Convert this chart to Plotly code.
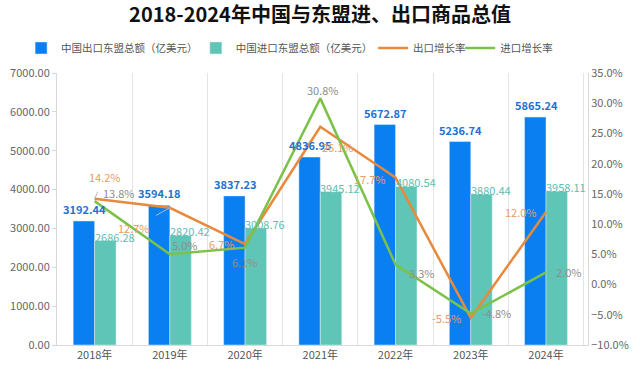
import plotly.graph_objects as go

years = ["2018年", "2019年", "2020年", "2021年", "2022年", "2023年", "2024年"]
export_vals = [3192.44, 3594.18, 3837.23, 4836.95, 5672.87, 5236.74, 5865.24]
import_vals = [2686.28, 2820.42, 3008.76, 3945.12, 4080.54, 3880.44, 3958.11]
export_growth = [14.2, 12.7, 6.7, 26.1, 17.7, -5.5, 12.0]
import_growth = [13.8, 5.0, 6.1, 30.8, 3.3, -4.8, 2.0]
series_names = ["中国出口东盟总额（亿美元）", "中国进口东盟总额（亿美元）", "出口增长率", "进口增长率"]

# label offsets (pixels) for growth labels
exp_off = [(10, -22), (-36, 20), (-24, 0), (18, 20), (-26, 1), (-24, 0), (-25, 0)]
imp_off = [(24, -8), (15, -9), (-1, 14), (3, -8), (26, 8), (26, -1), (22, 0)]
exp_leader = [True, True, False, False, False, False, False]
legend_x = [0.033, 0.306, 0.583, 0.719]

FONT = "Noto Sans CJK SC"
BLUE = "#0a7ff2"
TEAL = "#5fc5b7"
ORANGE = "#e8893c"
GREEN = "#7cc24a"

fig = go.Figure()
fig.add_trace(go.Bar(x=years, y=export_vals, name=series_names[0],
                     marker_color=BLUE, yaxis="y", legend="legend"))
fig.add_trace(go.Bar(x=years, y=import_vals, name=series_names[1],
                     marker_color=TEAL, yaxis="y", legend="legend2"))
fig.add_trace(go.Scatter(x=years, y=export_growth, name=series_names[2], mode="lines",
                         line=dict(color=ORANGE, width=2.5), yaxis="y2", legend="legend3"))
fig.add_trace(go.Scatter(x=years, y=import_growth, name=series_names[3], mode="lines",
                         line=dict(color=GREEN, width=2.5), yaxis="y2", legend="legend4"))

ann = []
for x, v in zip(years, export_vals):
    ann.append(dict(x=x, y=v, xref="x", yref="y", text=f"<b>{v:.2f}</b>", showarrow=False,
                    xshift=-10, yshift=12, font=dict(color="#1e73d2", size=11, family=FONT)))
for x, v in zip(years, import_vals):
    ann.append(dict(x=x, y=v, xref="x", yref="y", text=f"{v:.2f}", showarrow=False,
                    xshift=20, yshift=4, font=dict(color="#5dbdb0", size=11, family=FONT)))
for x, v, (dx, dy), lead in zip(years, export_growth, exp_off, exp_leader):
    if lead:
        ann.append(dict(x=x, y=v, xref="x", yref="y2", text=f"{v:.1f}%", showarrow=True,
                        ax=dx, ay=dy, arrowhead=0, arrowwidth=1, arrowcolor="#b8b8b8",
                        standoff=0, startstandoff=6,
                        font=dict(color="#e99a62", size=11, family=FONT)))
    else:
        ann.append(dict(x=x, y=v, xref="x", yref="y2", text=f"{v:.1f}%", showarrow=False,
                        xshift=dx, yshift=-dy, font=dict(color="#e99a62", size=11, family=FONT)))
for x, v, (dx, dy) in zip(years, import_growth, imp_off):
    ann.append(dict(x=x, y=v, xref="x", yref="y2", text=f"{v:.1f}%", showarrow=False,
                    xshift=dx, yshift=-dy, font=dict(color="#8e8e8e", size=11, family=FONT)))

def leg(xp):
    return dict(orientation="h", x=xp, xref="container", xanchor="left",
                y=1.092, yanchor="middle", visible=True,
                font=dict(size=10.5, color="#555555", family=FONT),
                itemwidth=30, bgcolor="rgba(0,0,0,0)", borderwidth=0)

fig.update_layout(
    width=640, height=373, showlegend=True,
    margin=dict(l=57, r=52, t=73, b=28, autoexpand=False),
    paper_bgcolor="white", plot_bgcolor="white",
    font=dict(family=FONT, color="#666666", size=11),
    title=dict(text="<b>2018-2024年中国与东盟进、出口商品总值</b>", x=0.5, xanchor="center",
               y=0.96, yanchor="middle", font=dict(size=20, color="#111111", family=FONT)),
    legend=leg(legend_x[0]), legend2=leg(legend_x[1]),
    legend3=leg(legend_x[2]), legend4=leg(legend_x[3]),
    barmode="group", bargap=0.43, bargroupgap=0,
    xaxis=dict(type="category", tickson="boundaries", showgrid=True, gridcolor="#e4e4e4",
               gridwidth=1, ticklen=0, showline=True, linecolor="#d9d9d9",
               tickfont=dict(size=11, color="#555555")),
    yaxis=dict(range=[0, 7000], dtick=1000, tickformat=".2f", showgrid=False,
               showline=True, linecolor="#d9d9d9", ticks="outside", ticklen=4,
               tickcolor="#d9d9d9", zeroline=False, tickfont=dict(size=11, color="#666666")),
    yaxis2=dict(range=[-10, 35], dtick=5, tickformat=".1f", ticksuffix="%", overlaying="y",
                side="right", showgrid=False, showline=True, linecolor="#d9d9d9",
                zeroline=False, tickfont=dict(size=11, color="#666666")),
    annotations=ann,
)
fig.write_html("out.html", config={"displayModeBar": False},
               post_script="document.body.style.margin='0';")
